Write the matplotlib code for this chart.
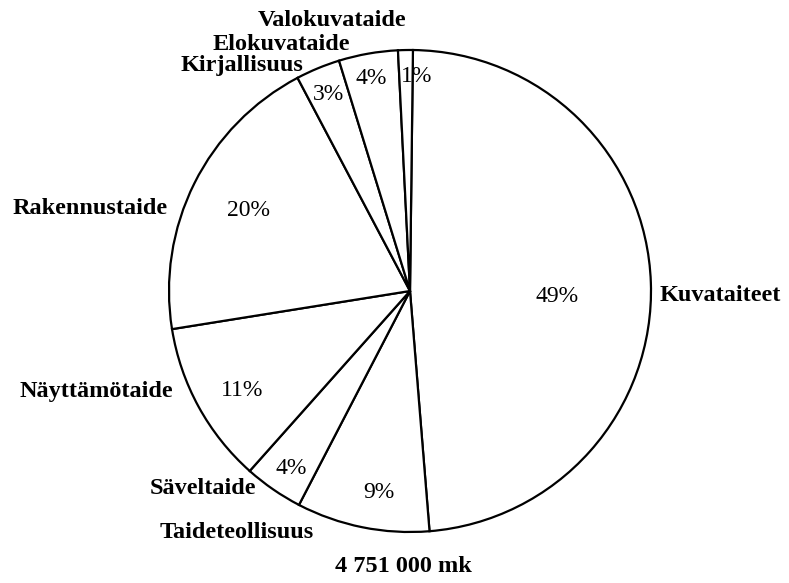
import matplotlib
matplotlib.use('Agg')
import matplotlib.pyplot as plt

# shares of the grant, clockwise from top
categories = ['Kuvataiteet', 'Taideteollisuus', 'Säveltaide', 'Näyttämötaide',
              'Rakennustaide', 'Kirjallisuus', 'Elokuvataide', 'Valokuvataide']
shares = [49, 9, 4, 11, 20, 3, 4, 1]
pct_labels = ['49%', '9%', '4%', '11%', '20%', '3%', '4%', '1%']
total_label = '4 751 000 mk'

# layout in pixels (centre of circle and radius), label anchors
W, H = 789, 583
CX, CY, R = 410, 291, 241
pct_pos = [(557, 297), (379, 493), (291, 468), (242, 391),
           (249, 211), (329, 95), (371, 79), (417, 77)]
name_pos = [(660, 296), (160, 533), (150, 488), (20, 392),
            (13, 209), (181, 66), (213, 44), (258, 21)]


def to_data(px, py):
    return (px - CX) / R, (CY - py) / R


fig = plt.figure(figsize=(W / 100, H / 100), dpi=100)
ax = fig.add_axes([0, 0, 1, 1])
ax.pie(shares, startangle=89.3, counterclock=False, radius=1,
       colors=['white'] * len(shares),
       wedgeprops=dict(edgecolor='black', linewidth=1.6))
ax.set_xlim(-CX / R, (W - CX) / R)
ax.set_ylim(-(H - CY) / R, CY / R)
ax.set_aspect('equal')
ax.axis('off')

serif = ['Liberation Serif', 'DejaVu Serif']
for (px, py), t in zip(pct_pos, pct_labels):
    x, y = to_data(px, py)
    ax.text(x, y, t, ha='center', va='center', fontsize=17, family=serif)

for (px, py), name in zip(name_pos, categories):
    x, y = to_data(px, py)
    ax.text(x, y, name, ha='left', va='center', fontsize=17.5, family=serif,
            fontweight='bold')

x, y = to_data(335, 567)
ax.text(x, y, total_label, ha='left', va='center', fontsize=17.5,
        family=serif, fontweight='bold')

fig.savefig('out.png', dpi=100, facecolor='white')
